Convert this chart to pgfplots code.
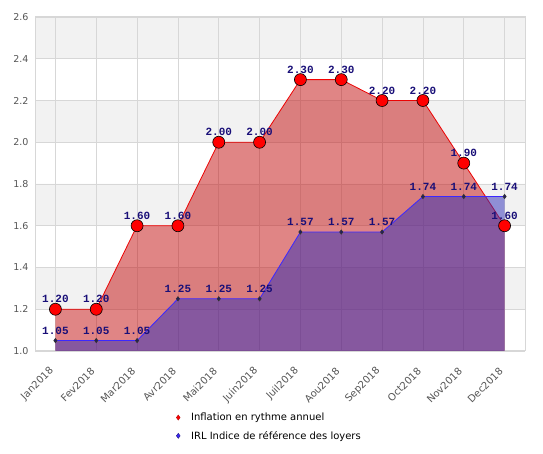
\documentclass[border=0pt]{standalone}
\usepackage{fontspec}
\setmainfont{DejaVu Sans}
\newfontfamily\labfont{Liberation Mono}
\usepackage{pgfplots}
\pgfplotsset{compat=1.18}
\usetikzlibrary{calc}

\definecolor{tickgray}{RGB}{85,85,85}
\definecolor{gridgray}{RGB}{215,215,215}
\definecolor{bandgray}{RGB}{242,242,242}
\definecolor{labnavy}{RGB}{25,15,120}
\definecolor{inflfill}{RGB}{195,12,12}
\definecolor{irlfill}{RGB}{45,45,185}
\definecolor{irlline}{RGB}{60,40,255}

% month index, value
\pgfplotstableread{
x y
0 1.20
1 1.20
2 1.60
3 1.60
4 2.00
5 2.00
6 2.30
7 2.30
8 2.20
9 2.20
10 1.90
11 1.60
}\inflation
\pgfplotstableread{
x y
0 1.05
1 1.05
2 1.05
3 1.25
4 1.25
5 1.25
6 1.57
7 1.57
8 1.57
9 1.74
10 1.74
11 1.74
}\irldata

% alternating bands behind the grid: 1.2-1.4, 1.6-1.8, 2.0-2.2, 2.4-2.6
\tikzset{band/.style n args={2}{insert path={
  ($(path picture bounding box.south west)!#1!(path picture bounding box.north west)$)
  rectangle
  ($(path picture bounding box.south east)!#2!(path picture bounding box.north east)$)}}}

\begin{document}
\begin{tikzpicture}
\path[use as bounding box] (0,0) rectangle (543pt,454pt);
\begin{axis}[
  at={(35pt,103pt)}, anchor=south west,
  width=490pt, height=334pt, scale only axis,
  xmin=-0.5, xmax=11.5, ymin=1.0, ymax=2.6,
  axis background/.style={fill=white, path picture={
    \fill[bandgray] [band={0.125}{0.25}] [band={0.375}{0.5}] [band={0.625}{0.75}] [band={0.875}{1}];}},
  xtick={0,...,11},
  xticklabels={Jan2018,Fev2018,Mar2018,Avr2018,Mai2018,Juin2018,Juil2018,Aou2018,Sep2018,Oct2018,Nov2018,Dec2018},
  ytick={1.0,1.2,1.4,1.6,1.8,2.0,2.2,2.4,2.6},
  yticklabel style={/pgf/number format/fixed, /pgf/number format/fixed zerofill,
    /pgf/number format/precision=1, xshift=-3pt},
  /pgf/number format/assume math mode=true,
  tick label style={font=\fontsize{9.5}{11}\selectfont, text=tickgray},
  xticklabel style={font=\fontsize{10}{12}\selectfont, anchor=east, xshift=-1pt, yshift=-16pt, rotate=45},
  major tick length=0pt,
  grid=major,
  major grid style={gridgray, line width=0.8pt},
  axis line style={gridgray, line width=1pt},
  legend style={at={(0.282,-0.173)}, anchor=north west, draw=none, fill=none,
    font=\fontsize{10}{12}\selectfont, row sep=5pt, column sep=9pt},
  legend cell align=left,
]
\addlegendimage{only marks, mark=diamond*, mark size=2.5pt, red, mark options={draw=red!70!black}}
\addlegendentry{Inflation en rythme annuel}
\addlegendimage{only marks, mark=diamond*, mark size=2.5pt, irlline, mark options={draw=labnavy}}
\addlegendentry{IRL Indice de référence des loyers}

% inflation line, marks and labels (under the fills)
\addplot[forget plot, red, line width=0.8pt, mark=*, mark size=6pt,
  mark options={fill=red, draw=black, line width=0.6pt},
  nodes near coords={\pgfmathprintnumber[fixed,fixed zerofill,precision=2]{\pgfplotspointmeta}},
  every node near coord/.append style={font=\labfont\bfseries\fontsize{11}{12}\selectfont,
    text=labnavy, anchor=center, yshift=10pt}]
  table[x=x, y=y] {\inflation};

% fills
\addplot[forget plot, draw=none, fill=inflfill, fill opacity=0.5] table[x=x, y=y] {\inflation} \closedcycle;
\addplot[forget plot, draw=none, fill=irlfill, fill opacity=0.5] table[x=x, y=y] {\irldata} \closedcycle;

% irl line, marks and labels
\addplot[forget plot, irlline, line width=0.8pt, mark=diamond*, mark size=2pt,
  mark options={fill=labnavy, draw=black!80},
  nodes near coords={\pgfmathprintnumber[fixed,fixed zerofill,precision=2]{\pgfplotspointmeta}},
  every node near coord/.append style={font=\labfont\bfseries\fontsize{11}{12}\selectfont,
    text=labnavy, anchor=center, yshift=10pt}]
  table[x=x, y=y] {\irldata};
\end{axis}
\end{tikzpicture}
\end{document}
